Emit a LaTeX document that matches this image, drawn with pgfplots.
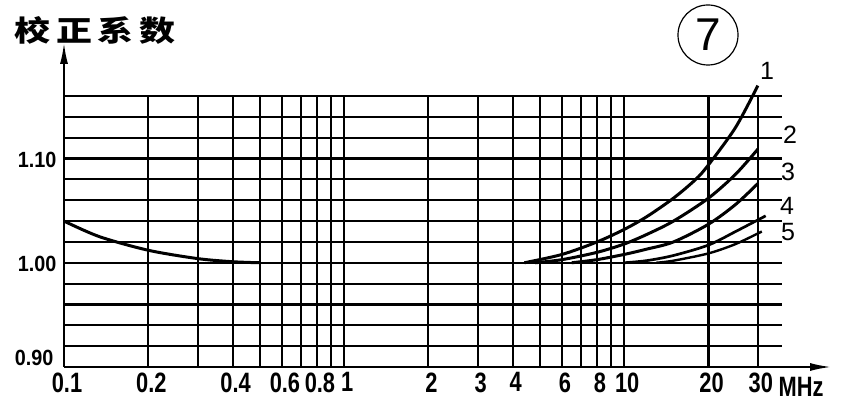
\documentclass[border=0pt]{standalone}
\usepackage{fontspec}
\usepackage{pgfplots}
\pgfplotsset{compat=1.18}
\usetikzlibrary{arrows.meta}
\setmainfont{Liberation Sans}
\newfontfamily\tickfont{Liberation Sans}[FakeStretch=0.78]
\newfontfamily\ytickfont{Liberation Sans}[FakeStretch=0.9]
\newfontfamily\cjk{Noto Sans CJK SC}

\begin{document}
\begin{tikzpicture}
\useasboundingbox (-64pt,-47pt) rectangle (787pt,367pt);
\begin{axis}[
  scale only axis, width=718pt, height=271pt,
  xmode=log, xmin=0.1, xmax=36.6, ymin=0.90, ymax=1.16,
  clip=false,
  axis line style={draw=none},
  major tick length=0pt,
  xtick={0.1,0.2,0.3,0.4,0.5,0.6,0.7,0.8,0.9,1,2,3,4,5,6,7,8,9,10,20,30},
  xticklabels={0.1,0.2,,0.4,,0.6,,0.8,,1,2,3,4,,6,,8,,10,20,30},
  ytick={0.90,0.92,0.94,0.96,0.98,1.00,1.02,1.04,1.06,1.08,1.10,1.12,1.14,1.16},
  yticklabels={,,,,,1.00,,,,,1.10,,,},
  xticklabel style={font={\fontsize{28}{28}\tickfont\bfseries}, yshift=-2pt, xshift=3pt},
  yticklabel style={font={\fontsize{22}{22}\ytickfont\bfseries}, xshift=-4pt, yshift=-1pt},
  grid=major,
  major grid style={black, line width=2.1pt},
]
% low-frequency curve
\addplot[black, line width=3pt, smooth] coordinates {
  (0.1,1.040) (0.134,1.025) (0.2,1.012) (0.3,1.004) (0.4,1.001) (0.5,1.000)};
% curve 1
\addplot[black, line width=3pt, smooth] coordinates {
  (4.4,1.000) (6,1.008) (8,1.020) (10,1.032) (12,1.044) (15,1.062) (18,1.080) (20,1.094) (25,1.130) (30,1.170)};
% curve 2
\addplot[black, line width=3pt, smooth] coordinates {
  (4.8,1.000) (6,1.003) (8,1.010) (10,1.018) (12,1.027) (15,1.040) (20,1.062) (25,1.085) (30,1.109)};
% curve 3
\addplot[black, line width=3pt, smooth] coordinates {
  (6.5,1.000) (8,1.003) (10,1.008) (12,1.013) (15,1.020) (20,1.037) (25,1.056) (30,1.076)};
% curve 4
\addplot[black, line width=2.7pt, smooth] coordinates {
  (10,1.000) (12,1.002) (15,1.007) (20,1.017) (25,1.030) (32,1.045)};
% curve 5
\addplot[black, line width=2.4pt, smooth] coordinates {
  (13,1.000) (15,1.002) (20,1.009) (25,1.018) (31,1.030)};
\end{axis}
% axes with arrows
\draw[line width=2.3pt, -{Latex[length=22pt,width=8pt]}] (0,0) -- (0,325pt);
\draw[line width=2.3pt, -{Latex[length=22pt,width=8pt]}] (0,0) -- (768pt,0);
% texts
\node[anchor=east, font={\fontsize{22}{22}\ytickfont\bfseries}] at (-7pt,9pt) {0.90};
\node at (31pt,337pt) {\resizebox{160pt}{25pt}{\cjk\bfseries 校\hspace{0.15em}正\hspace{0.15em}系\hspace{0.15em}数}};
\draw[line width=1.2pt] (644pt,332pt) circle (30pt);
\node[font={\fontsize{46}{46}\selectfont}] at (644pt,332pt) {7};
\node[font={\fontsize{28}{28}\tickfont\bfseries}] at (737pt,-20pt) {MHz};
\node[font={\fontsize{25}{25}\selectfont}] at (703pt,296pt) {1};
\node[font={\fontsize{25}{25}\selectfont}] at (726pt,232pt) {2};
\node[font={\fontsize{25}{25}\selectfont}] at (724pt,195pt) {3};
\node[font={\fontsize{25}{25}\selectfont}] at (723pt,161pt) {4};
\node[font={\fontsize{25}{25}\selectfont}] at (724pt,135pt) {5};
\end{tikzpicture}
\end{document}
